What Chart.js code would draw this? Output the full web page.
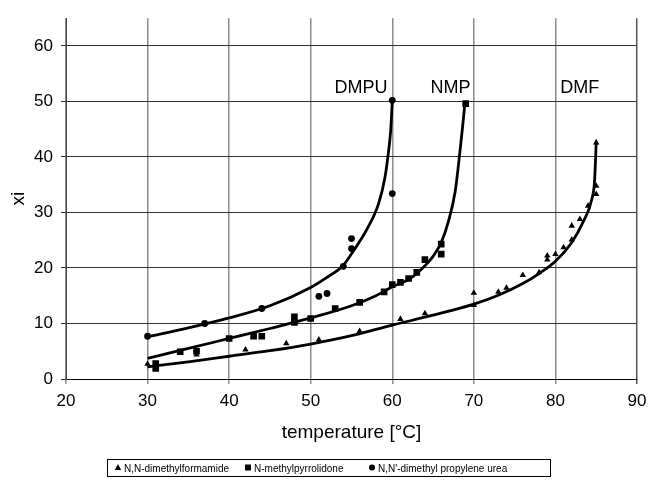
<!DOCTYPE html>
<html><head><meta charset="utf-8">
<script src="https://cdn.jsdelivr.net/npm/chart.js@4/dist/chart.umd.min.js"></script>
<style>html,body{margin:0;padding:0;background:#fff}</style>
</head><body>
<canvas id="c" width="648" height="480"></canvas>
<script>
// ---------- data ----------
const xTickValues = [20, 30, 40, 50, 60, 70, 80, 90];
const yTickValues = [0, 10, 20, 30, 40, 50, 60];

// N,N-dimethylformamide (triangles)
const dmfT  = [30, 36, 42, 47, 51, 56, 61, 64, 70, 70, 73, 74, 76, 78, 79, 79, 80, 81, 82, 82, 83, 84, 85, 85, 85];
const dmfXi = [2.7, 4.4, 5.3, 6.4, 7.1, 8.6, 10.8, 11.8, 13.3, 15.5, 15.7, 16.4, 18.7, 19.2, 21.5, 22.2, 22.5, 23.7, 25.1, 27.6, 28.8, 31.2, 33.3, 34.8, 42.6];
// N-methylpyrrolidone (squares)
const nmpT  = [31, 31, 34, 36, 40, 43, 44, 48, 48, 50, 53, 56, 59, 60, 61, 62, 63, 64, 66, 66, 69];
const nmpXi = [1.9, 2.8, 4.9, 5.0, 7.3, 7.7, 7.7, 10.2, 11.2, 10.9, 12.7, 13.8, 15.7, 17.0, 17.4, 18.1, 19.2, 21.5, 22.5, 24.3, 49.6];
// N,N'-dimethyl propylene urea (circles)
const dmpuT  = [30, 37, 44, 51, 52, 54, 55, 55, 60, 60];
const dmpuXi = [7.7, 10.0, 12.7, 14.9, 15.4, 20.3, 23.5, 25.3, 33.4, 50.2];

// fitted curves
const dmfCurveT  = [30, 35, 40, 45, 50, 55, 60, 65, 70, 73, 76, 78, 80, 82, 83.4, 84.5, 84.8, 85];
const dmfCurveXi = [2.2, 3.1, 4.1, 5.1, 6.3, 7.8, 9.7, 11.5, 13.5, 15.1, 17.2, 19.0, 21.2, 24.6, 28.3, 32.6, 35.7, 42.6];
const nmpCurveT  = [30, 35, 40, 45, 50, 55, 58, 60, 62, 63, 64, 65, 66, 66.9, 67.7, 68.2, 68.6, 68.9];
const nmpCurveXi = [3.7, 5.5, 7.3, 9.1, 11.0, 13.2, 15.0, 16.6, 17.9, 19.0, 20.4, 22.1, 24.6, 28.5, 33.7, 39.7, 45.2, 49.6];
const dmpuCurveT  = [30, 35, 40, 45, 50, 52, 54, 55.25, 56.9, 58.3, 59.1, 59.5, 59.8, 60];
const dmpuCurveXi = [7.6, 9.2, 11.0, 13.2, 16.5, 18.3, 20.5, 23.1, 27.0, 31.5, 36.3, 40.5, 44.7, 50.0];

const seriesNames = ['N,N-dimethylformamide', 'N-methylpyrrolidone', "N,N'-dimethyl propylene urea"];
const curveNames = ['DMPU', 'NMP', 'DMF'];
const curveNameT  = [59.4, 69.6, 80.6];
const curveNameXi = [51.5, 51.5, 51.5];

// ---------- helpers ----------
const pts = (xs, ys) => xs.map((x, i) => ({x: x, y: ys[i]}));
const FONT = "'Liberation Sans', Arial, Helvetica, sans-serif";

const markerSet = (label, xs, ys, style, r) => ({
  label: label, data: pts(xs, ys), showLine: false,
  pointStyle: style, pointRadius: r, pointHoverRadius: r,
  backgroundColor: '#000', borderColor: '#000', borderWidth: 0, order: 1
});
const curveSet = (xs, ys) => ({
  label: '', data: pts(xs, ys), showLine: true, pointRadius: 0, pointHoverRadius: 0,
  borderColor: '#000', borderWidth: 2.8, backgroundColor: '#000',
  cubicInterpolationMode: 'monotone', fill: false, order: 2
});

const overlay = {
  id: 'overlay',
  afterDraw(chart) {
    const ctx = chart.ctx;
    const xs = chart.scales.x, ys = chart.scales.y;
    ctx.save();
    ctx.fillStyle = '#000';
    ctx.font = '18px ' + FONT;
    ctx.textBaseline = 'alphabetic';
    curveNames.forEach((n, i) => {
      ctx.textAlign = i === 2 ? 'left' : 'right';
      ctx.fillText(n, xs.getPixelForValue(curveNameT[i]), ys.getPixelForValue(curveNameXi[i]));
    });
    // legend
    const bx = 107, by = 459, bw = 443, bh = 17;
    ctx.strokeStyle = '#000'; ctx.lineWidth = 1;
    ctx.strokeRect(bx + 0.5, by + 0.5, bw, bh);
    ctx.font = '10px ' + FONT;
    ctx.textAlign = 'left';
    const ty = by + 12.5;
    const items = [{m: 'tri', x: 118}, {m: 'sq', x: 248}, {m: 'ci', x: 372}];
    items.forEach((it, i) => {
      const cx = it.x, cy = by + 8.5;
      ctx.beginPath();
      if (it.m === 'tri') { ctx.moveTo(cx, cy - 3.5); ctx.lineTo(cx + 3.2, cy + 2.5); ctx.lineTo(cx - 3.2, cy + 2.5); ctx.closePath(); }
      else if (it.m === 'sq') { ctx.rect(cx - 3, cy - 3, 6, 6); }
      else { ctx.arc(cx, cy, 3, 0, Math.PI * 2); }
      ctx.fill();
      ctx.fillText(seriesNames[i], cx + 6, ty);
    });
    ctx.restore();
  }
};

new Chart(document.getElementById('c'), {
  type: 'scatter',
  data: {
    datasets: [
      markerSet(seriesNames[0], dmfT, dmfXi, 'triangle', 3.7),
      markerSet(seriesNames[1], nmpT, nmpXi, 'rect', 4.7),
      markerSet(seriesNames[2], dmpuT, dmpuXi, 'circle', 3.4),
      curveSet(dmfCurveT, dmfCurveXi),
      curveSet(nmpCurveT, nmpCurveXi),
      curveSet(dmpuCurveT, dmpuCurveXi)
    ]
  },
  options: {
    responsive: false, animation: false, devicePixelRatio: 1,
    layout: {padding: {top: 14, right: 11, left: 0, bottom: 30}},
    plugins: {legend: {display: false}, tooltip: {enabled: false}},
    scales: {
      x: {
        type: 'linear', min: 20, max: 90,
        afterBuildTicks: s => { s.ticks = xTickValues.map(v => ({value: v})); },
        afterFit: s => { s.height = 71; s.paddingRight = 0; s.paddingLeft = 0; },
        ticks: {color: '#000', font: {family: FONT, size: 17}, padding: 7},
        grid: {color: c => (c.tick && c.tick.value === 90) ? '#555' : '#8c8c8c', lineWidth: 1.5, tickLength: 5, drawTicks: true},
        border: {color: '#000', width: 1},
        title: {display: true, text: 'temperature [°C]', color: '#000', font: {family: FONT, size: 19}, padding: {top: 0, bottom: 6}}
      },
      y: {
        type: 'linear', min: 0, max: 65,
        afterBuildTicks: s => { s.ticks = yTickValues.map(v => ({value: v})); },
        afterFit: s => { s.width = 66; },
        ticks: {color: '#000', font: {family: FONT, size: 17}, padding: 8},
        grid: {color: '#333', lineWidth: 1, tickLength: 5},
        border: {color: '#444', width: 1},
        title: {display: true, text: 'xi', color: '#000', font: {family: FONT, size: 19}, padding: {top: 7, bottom: 0}}
      }
    }
  },
  plugins: [overlay]
});
</script>
</body></html>
